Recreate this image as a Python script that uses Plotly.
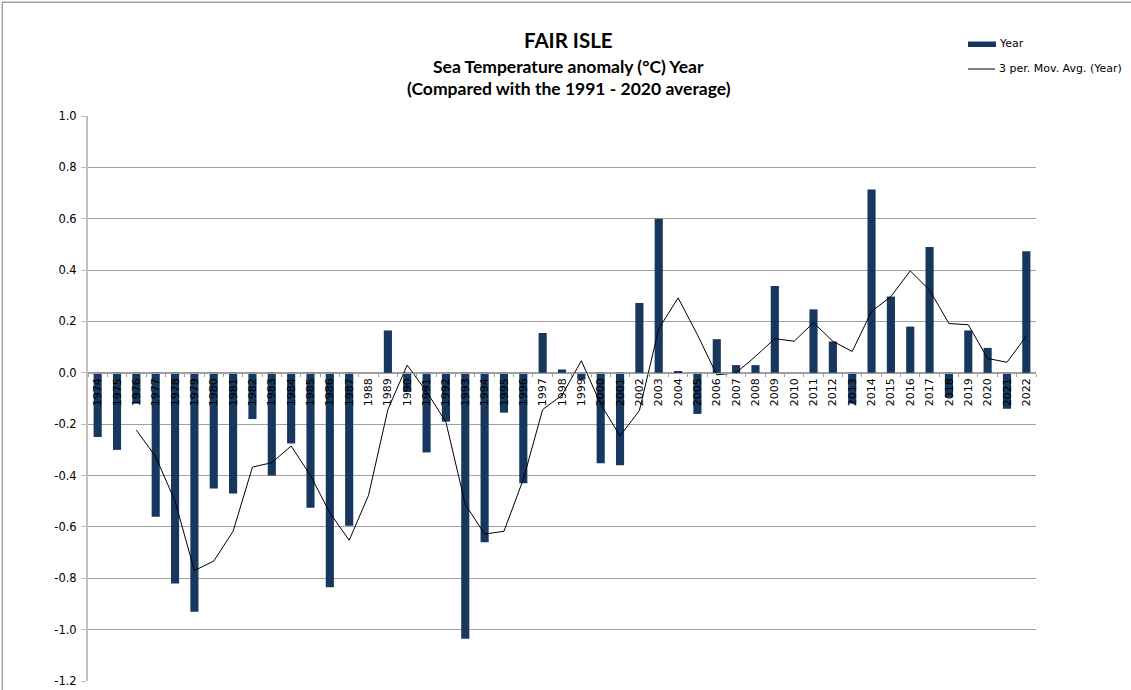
import plotly.graph_objects as go

years = [str(y) for y in range(1974, 2023)]

anomaly = [
    -0.25, -0.30, -0.12, -0.56, -0.82, -0.93, -0.45, -0.47, -0.18, -0.40,
    -0.275, -0.525, -0.835, -0.595, 0.0, 0.165, -0.075, -0.31, -0.19, -1.035,
    -0.66, -0.155, -0.43, 0.155, 0.013, -0.026, -0.352, -0.36, 0.272, 0.60,
    0.005, -0.16, 0.131, 0.03, 0.03, 0.338, 0.0, 0.247, 0.122, -0.12,
    0.714, 0.297, 0.18, 0.49, -0.095, 0.165, 0.097, -0.14, 0.473,
]

moving_avg = [
    None, None, -0.223, -0.327, -0.50, -0.77, -0.733, -0.617, -0.367, -0.35,
    -0.285, -0.40, -0.545, -0.652, -0.477, -0.143, 0.03, -0.073, -0.192, -0.512,
    -0.628, -0.617, -0.415, -0.143, -0.087, 0.047, -0.122, -0.246, -0.147, 0.171,
    0.292, 0.148, -0.008, 0.0, 0.064, 0.133, 0.123, 0.195, 0.123, 0.083,
    0.239, 0.297, 0.397, 0.322, 0.192, 0.187, 0.056, 0.041, 0.143,
]

y_ticks = [1.0, 0.8, 0.6, 0.4, 0.2, 0.0, -0.2, -0.4, -0.6, -0.8, -1.0, -1.2]
y_labels = ["1.0", "0.8", "0.6", "0.4", "0.2", "0.0", "-0.2", "-0.4", "-0.6", "-0.8", "-1.0", "-1.2"]

title_main = "FAIR ISLE"
title_sub1 = "Sea Temperature anomaly (°C) Year"
title_sub2 = "(Compared with the 1991 - 2020 average)"
legend_bar = "Year"
legend_line = "3 per. Mov. Avg. (Year)"

BAR = "#17375E"
GRID = "#a0a0a0"
AXIS_FONT = "DejaVu Sans"
TITLE_FONT = "Lato"

# plot-area geometry (pixels) used to place decorations in paper coords
L, R, T, B = 88, 1036, 116, 681
W, H = R - L, B - T


def px(x):
    return (x - L) / W


def py(y):
    return (B - y) / H


fig = go.Figure()
fig.add_trace(go.Bar(
    x=years, y=anomaly, name=legend_bar,
    marker=dict(color=BAR, line=dict(width=0)),
    showlegend=False,
))
fig.add_trace(go.Scatter(
    x=years, y=moving_avg, name=legend_line,
    mode="lines", line=dict(color="#000000", width=1),
    connectgaps=False, showlegend=False,
))

ymin, ymax = -1.2, 1.0
zero_pos = (0 - ymin) / (ymax - ymin)

fig.update_layout(
    width=1131, height=690,
    margin=dict(l=L, r=1131 - R, t=T, b=690 - B, autoexpand=False),
    paper_bgcolor="white", plot_bgcolor="white",
    bargap=0.58,
    font=dict(family=AXIS_FONT, size=11, color="#000000"),
    showlegend=False,
    xaxis=dict(
        type="category", anchor="free", position=zero_pos, automargin=False,
        showline=True, linecolor=GRID, linewidth=1,
        ticks="outside", ticklen=3, tickcolor=GRID, tickson="boundaries",
        tickangle=-90, tickfont=dict(family=AXIS_FONT, size=11, color="#000000"),
        showgrid=False, zeroline=False,
    ),
    yaxis=dict(
        range=[ymin, ymax], tickvals=y_ticks, ticktext=y_labels, automargin=False,
        showgrid=True, gridcolor=GRID, gridwidth=1,
        showline=True, linecolor="#c0c0c0", linewidth=2,
        ticks="outside", ticklen=5, tickcolor="#c0c0c0", ticklabelstandoff=2,
        zeroline=False, tickfont=dict(family=AXIS_FONT, size=11.5, color="#000000"),
    ),
    annotations=[
        dict(text="<b>" + title_main + "</b>", xref="paper", yref="paper",
             x=px(568), y=py(40), xanchor="center", yanchor="middle", showarrow=False,
             font=dict(family=TITLE_FONT, size=20.5, color="#000000")),
        dict(text="<b>" + title_sub1 + "</b>", xref="paper", yref="paper",
             x=px(568), y=py(66), xanchor="center", yanchor="middle", showarrow=False,
             font=dict(family=TITLE_FONT, size=17.5, color="#000000")),
        dict(text="<b>" + title_sub2 + "</b>", xref="paper", yref="paper",
             x=px(569), y=py(88), xanchor="center", yanchor="middle", showarrow=False,
             font=dict(family=TITLE_FONT, size=17.5, color="#000000")),
        dict(text=legend_bar, xref="paper", yref="paper",
             x=px(997), y=py(44), xanchor="left", yanchor="middle", showarrow=False,
             font=dict(family=AXIS_FONT, size=11, color="#000000")),
        dict(text=legend_line, xref="paper", yref="paper",
             x=px(997), y=py(69), xanchor="left", yanchor="middle", showarrow=False,
             font=dict(family=AXIS_FONT, size=11, color="#000000")),
    ],
    shapes=[
        dict(type="rect", xref="paper", yref="paper", x0=px(968), x1=px(996), y0=py(41.5), y1=py(47),
             fillcolor=BAR, line=dict(width=0)),
        dict(type="line", xref="paper", yref="paper", x0=px(968), x1=px(995), y0=py(69), y1=py(69),
             line=dict(color="#000000", width=1)),
        dict(type="line", xref="paper", yref="paper", x0=px(2.3), x1=px(1131), y0=py(2.3), y1=py(2.3),
             line=dict(color="#a0a0a0", width=1.5)),
        dict(type="line", xref="paper", yref="paper", x0=px(2.3), x1=px(2.3), y0=py(690), y1=py(2.3),
             line=dict(color="#a0a0a0", width=1.5)),
    ],
)

fig.write_html("out.html", config={"displayModeBar": False},
               post_script="document.body.style.margin='0';")
